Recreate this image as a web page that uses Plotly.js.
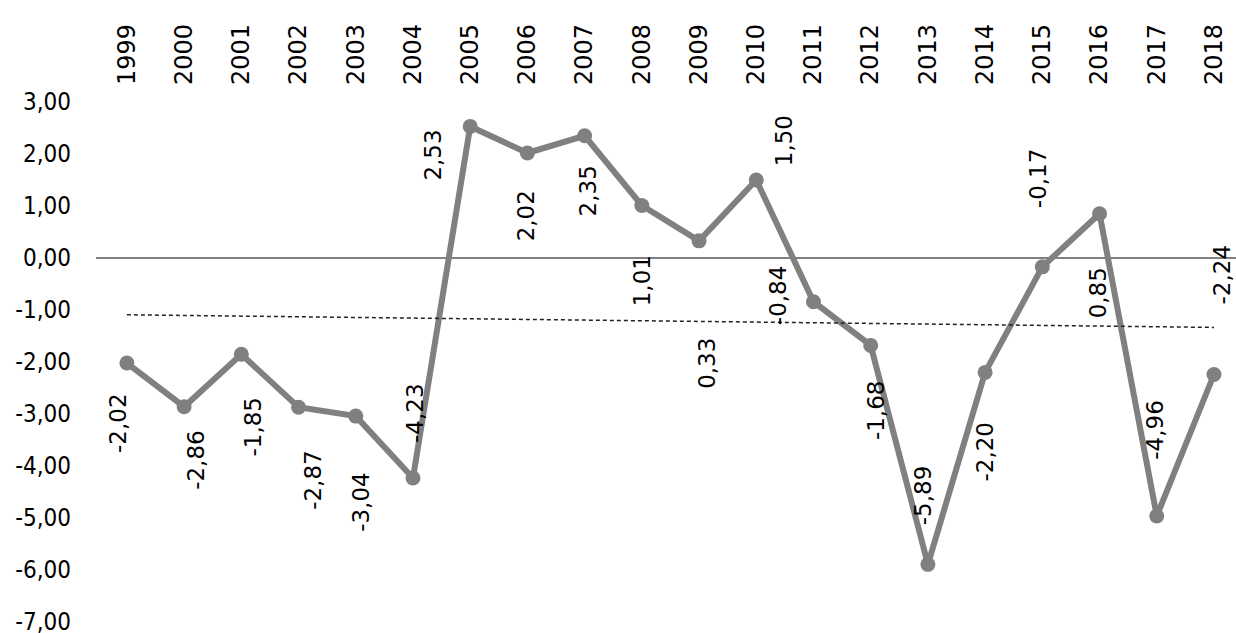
<!DOCTYPE html>
<html>
<head>
<meta charset="utf-8">
<script src="https://cdn.plot.ly/plotly-3.0.1.min.js"></script>
<style>
  html, body { margin: 0; padding: 0; background: #fff; }
  #chart { width: 1236px; height: 633px; }
</style>
</head>
<body>
<div id="chart"></div>
<script>
// ---- data ----
const years = ["1999","2000","2001","2002","2003","2004","2005","2006","2007","2008",
               "2009","2010","2011","2012","2013","2014","2015","2016","2017","2018"];
const values = [-2.02,-2.86,-1.85,-2.87,-3.04,-4.23,2.53,2.02,2.35,1.01,
                0.33,1.50,-0.84,-1.68,-5.89,-2.20,-0.17,0.85,-4.96,-2.24];
const yTickValues = [3,2,1,0,-1,-2,-3,-4,-5,-6,-7];

// ---- label placement (styling: pixel offsets from each point) ----
const labelDx = [-9, 12, 12, 15, 5, 2, -37, -1, 3, 1, 8, 28, -36, 6, -5, 0, -4, -2, -2, 8];
const labelDy = [-60, -53, -72, -73, -86, 65, -29, -63, -55, -75, -123, 39, 7, -65, 69, -79, 89, -79, 86, 100];

// linear trend (least squares over the series)
const n = values.length;
const mx = (n - 1) / 2;
const my = values.reduce((a, b) => a + b, 0) / n;
let sxy = 0, sxx = 0;
for (let i = 0; i < n; i++) { sxy += (i - mx) * (values[i] - my); sxx += (i - mx) * (i - mx); }
const slope = sxy / sxx, intercept = my - slope * mx;
const trendX = [years[0], years[n - 1]];
const trendY = [intercept, intercept + slope * (n - 1)];

const fmt = v => v.toFixed(2).replace('.', ',');

const lineTrace = {
  x: years, y: values, type: 'scatter', mode: 'lines+markers',
  line: { color: '#808080', width: 6 },
  marker: { color: '#808080', size: 15 },
  hoverinfo: 'skip', showlegend: false
};
const trendTrace = {
  x: trendX, y: trendY, type: 'scatter', mode: 'lines',
  line: { color: '#222222', width: 1.5, dash: '4px,3px' },
  hoverinfo: 'skip', showlegend: false
};

// annotations on a category axis use the category serial number
const annotations = values.map((v, i) => ({
  x: i, y: v, xref: 'x', yref: 'y',
  text: fmt(v), showarrow: false, textangle: -90,
  xanchor: 'center', yanchor: 'middle',
  xshift: labelDx[i], yshift: labelDy[i],
  font: { family: 'DejaVu Sans, sans-serif', size: 23, color: '#000' }
}));

const layout = {
  width: 1236, height: 633,
  margin: { l: 96, r: 0, t: 90, b: 0, pad: 0 },
  paper_bgcolor: '#ffffff', plot_bgcolor: '#ffffff',
  separators: ', ',
  showlegend: false,
  hovermode: false,
  xaxis: {
    type: 'category', side: 'top',
    categoryorder: 'array', categoryarray: years,
    range: [-0.54, 19.385],
    tickangle: -90,
    showgrid: false, showline: false, zeroline: false, ticks: '',
    ticklabelstandoff: 4,
    tickfont: { family: 'DejaVu Sans, sans-serif', size: 24, color: '#000' }
  },
  yaxis: {
    range: [-7.21, 3.23],
    tickmode: 'array', tickvals: yTickValues,
    ticktext: yTickValues.map(fmt),
    showgrid: false, showline: false, ticks: '',
    zeroline: true, zerolinecolor: '#808080', zerolinewidth: 1.5,
    ticklabelstandoff: 24,
    ticklabeloverflow: 'allow',
    tickfont: { family: 'DejaVu Sans Condensed, DejaVu Sans, sans-serif', size: 24, color: '#000' }
  },
  annotations: annotations
};

Plotly.newPlot('chart', [lineTrace, trendTrace], layout, { displayModeBar: false, staticPlot: true });
</script>
</body>
</html>
